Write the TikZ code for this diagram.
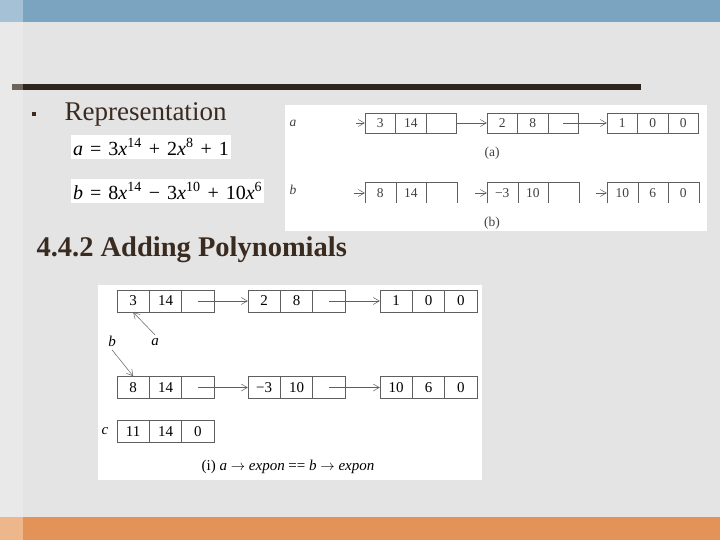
\documentclass[tikz,border=0pt]{standalone}
\usepackage{fontspec}
\setmainfont{Liberation Serif}
\usetikzlibrary{arrows.meta}
\definecolor{slidebg}{RGB}{228,228,228}
\definecolor{slidebgl}{RGB}{233,233,233}
\definecolor{topbar}{RGB}{123,164,192}
\definecolor{topbarl}{RGB}{164,193,214}
\definecolor{rulebar}{RGB}{47,36,28}
\definecolor{rulebarl}{RGB}{108,99,93}
\definecolor{footbar}{RGB}{228,147,88}
\definecolor{footbarl}{RGB}{237,182,139}
\definecolor{slidetext}{RGB}{58,43,33}
\definecolor{figline}{RGB}{95,95,95}
\newcommand{\eqfont}{\fontsize{20}{20}\selectfont\spaceskip=0.35em\relax}
\begin{document}
\begin{tikzpicture}[x=1pt, y=-1pt,
  tcell/.style={draw=figline, line width=0.5pt, minimum width=30.5pt, minimum height=20pt, inner sep=0pt, text=black!75, font=\fontsize{13.5}{13.5}\selectfont},
  topen/.style={tcell, draw=none},
  bcell/.style={draw=figline, line width=0.6pt, minimum width=32.3pt, minimum height=22pt, inner sep=0pt, font=\fontsize{15}{15}\selectfont},
  link/.style={figline, line width=0.5pt, -{Straight Barb[length=6pt, width=7pt]}},
  eqbox/.style={fill=white, anchor=west, inner xsep=2pt, minimum height=23pt, font=\eqfont}]
\useasboundingbox (0,0) rectangle (720,540);
\fill[slidebg] (0,0) rectangle (720,540);
\fill[slidebgl] (0,22) rectangle (23,517);
\fill[topbar] (0,0) rectangle (720,22);
\fill[topbarl] (0,0) rectangle (23,22);
\fill[rulebar] (12,84) rectangle (641,90);
\fill[rulebarl] (12,84) rectangle (23,90);
\fill[footbar] (0,517) rectangle (720,540);
\fill[footbarl] (0,517) rectangle (23,540);
\node[fill=slidetext, minimum size=4.5pt, inner sep=0pt] (bul) at (34,114){};
\node[anchor=base west, text=slidetext, font=\fontsize{27}{30}\selectfont] (rep) at (61,121){Representation};
\node[eqbox] (eqa) at (71,147){\textit{a} = 3\textit{x}\textsuperscript{14} + 2\textit{x}\textsuperscript{8} + 1};
\node[eqbox] (eqb) at (71,191){\textit{b} = 8\textit{x}\textsuperscript{14} − 3\textit{x}\textsuperscript{10} + 10\textit{x}\textsuperscript{6}};
\node[anchor=base west, text=slidetext, font=\bfseries\fontsize{28.5}{30}\selectfont] (head) at (33,256){4.4.2 Adding Polynomials};
\fill[white] (285,105) rectangle (707,231);
\node[text=black!75, font=\fontsize{13.5}{13.5}\itshape] (tla) at (293,123){a};
\node[tcell] (ta1) at (380.3,123){3};
\node[tcell] (ta2) at (410.8,123){14};
\node[tcell] (ta3) at (441.3,123){};
\node[tcell] (ta4) at (502.3,123){2};
\node[tcell] (ta5) at (532.8,123){8};
\node[tcell] (ta6) at (563.3,123){};
\node[tcell] (ta7) at (622.3,123){1};
\node[tcell] (ta8) at (652.8,123){0};
\node[tcell] (ta9) at (683.3,123){0};
\coordinate (ta0) at (356,123);
\draw[link](ta0) -- (ta1.west);
\draw[link](ta3.east) -- (ta4.west);
\draw[link](ta6.center) -- (ta7.west);
\node[text=black!75, font=\fontsize{13.5}{13.5}\selectfont] (tcapa) at (492,153){(a)};
\node[text=black!75, font=\fontsize{13.5}{13.5}\itshape] (tlb) at (293,190){b};
\node[topen] (tb1) at (380.3,193){8};
\node[topen] (tb2) at (410.8,193){14};
\node[topen] (tb3) at (441.3,193){};
\node[topen] (tb4) at (502.3,193){−3};
\node[topen] (tb5) at (532.8,193){10};
\node[topen] (tb6) at (563.3,193){};
\node[topen] (tb7) at (622.3,193){10};
\node[topen] (tb8) at (652.8,193){6};
\node[topen] (tb9) at (683.3,193){0};
\draw[figline, line width=0.5pt](tb1.south west) |- (tb3.north east) -- (tb3.south east);
\draw[figline, line width=0.5pt](tb1.north east) -- (tb1.south east);
\draw[figline, line width=0.5pt](tb2.north east) -- (tb2.south east);
\draw[figline, line width=0.5pt](tb4.south west) |- (tb6.north east) -- (tb6.south east);
\draw[figline, line width=0.5pt](tb4.north east) -- (tb4.south east);
\draw[figline, line width=0.5pt](tb5.north east) -- (tb5.south east);
\draw[figline, line width=0.5pt](tb7.south west) |- (tb9.north east) -- (tb9.south east);
\draw[figline, line width=0.5pt](tb7.north east) -- (tb7.south east);
\draw[figline, line width=0.5pt](tb8.north east) -- (tb8.south east);
\coordinate (tbx1) at (354,193);
\coordinate (tbx4) at (475,193);
\coordinate (tbx7) at (596,193);
\draw[link](tbx1) -- (tb1.west);
\draw[link](tbx4) -- (tb4.west);
\draw[link](tbx7) -- (tb7.west);
\node[text=black!75, font=\fontsize{13.5}{13.5}\selectfont] (tcapb) at (492,223){(b)};
\fill[white] (98,285) rectangle (482,480);
\node[bcell] (ba1) at (133.2,301){3};
\node[bcell] (ba2) at (165.5,301){14};
\node[bcell] (ba3) at (197.8,301){};
\node[bcell] (ba4) at (264.2,301){2};
\node[bcell] (ba5) at (296.5,301){8};
\node[bcell] (ba6) at (328.8,301){};
\node[bcell] (ba7) at (396.2,301){1};
\node[bcell] (ba8) at (428.5,301){0};
\node[bcell] (ba9) at (460.8,301){0};
\draw[link](ba3.center) -- (ba4.west);
\draw[link](ba6.center) -- (ba7.west);
\node[font=\fontsize{15}{15}\itshape] (la) at (155,342){a};
\node[font=\fontsize{15}{15}\itshape] (lb) at (112,341){b};
\draw[link](la.north) -- (ba1.south);
\node[bcell] (bb1) at (133.2,387.5){8};
\node[bcell] (bb2) at (165.5,387.5){14};
\node[bcell] (bb3) at (197.8,387.5){};
\node[bcell] (bb4) at (264.2,387.5){−3};
\node[bcell] (bb5) at (296.5,387.5){10};
\node[bcell] (bb6) at (328.8,387.5){};
\node[bcell] (bb7) at (396.2,387.5){10};
\node[bcell] (bb8) at (428.5,387.5){6};
\node[bcell] (bb9) at (460.8,387.5){0};
\draw[link](lb.south) -- (bb1.north);
\draw[link](bb3.center) -- (bb4.west);
\draw[link](bb6.center) -- (bb7.west);
\node[font=\fontsize{15}{15}\itshape] (lc) at (105,431.5){c};
\node[bcell] (bc1) at (133.2,431.5){11};
\node[bcell] (bc2) at (165.5,431.5){14};
\node[bcell] (bc3) at (197.8,431.5){0};
\node[font=\fontsize{15}{15}\selectfont] (bcap) at (288,467){(i) \textit{a} $\rightarrow$ \textit{expon} == \textit{b} $\rightarrow$ \textit{expon}};
\end{tikzpicture}
\end{document}
